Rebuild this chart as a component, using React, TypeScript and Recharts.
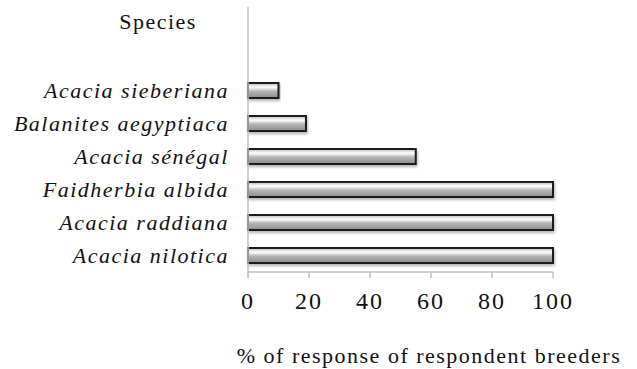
import React from "react";
import { BarChart, Bar, XAxis, YAxis } from "recharts";

const species = [
  "Acacia sieberiana",
  "Balanites aegyptiaca",
  "Acacia sénégal",
  "Faidherbia albida",
  "Acacia raddiana",
  "Acacia nilotica",
];
const responses = [10, 19, 55, 100, 100, 100];
const xTicks = [0, 20, 40, 60, 80, 100];

const data = species.map((name, i) => ({ name, value: responses[i] }));

const FONT = "Liberation Serif";
const INK = "#111";

export default function App() {
  return (
    <div style={{ position: "absolute", left: 0, top: 0, background: "#fff" }}>
      <BarChart
        width={637}
        height={369}
        data={data}
        layout="vertical"
        margin={{ top: 7, right: 84, left: 0, bottom: 0 }}
      >
        <defs>
          <linearGradient id="barFill" x1="0" y1="0" x2="0" y2="1">
            <stop offset="0%" stopColor="#b8b8b8" />
            <stop offset="28%" stopColor="#ffffff" />
            <stop offset="55%" stopColor="#b4b4b4" />
            <stop offset="100%" stopColor="#8c8c8c" />
          </linearGradient>
          <filter id="barShadow" x="-5%" y="-20%" width="110%" height="160%">
            <feDropShadow dx="1" dy="2" stdDeviation="1.5" floodColor="#000" floodOpacity="0.3" />
          </filter>
        </defs>
        <XAxis
          type="number"
          domain={[0, 100]}
          ticks={xTicks}
          height={97}
          axisLine={{ stroke: "#bfbfbf", strokeWidth: 1.5 }}
          tickLine={{ stroke: "#bfbfbf", strokeWidth: 1.5 }}
          tickSize={6}
          tickMargin={14}
          tick={{ fontFamily: FONT, fontSize: 24, fill: INK, letterSpacing: 2 }}
          label={{
            content: () => (
              <text
                x={429}
                y={363}
                textAnchor="middle"
                fontFamily={FONT}
                fontSize={22}
                letterSpacing={1.5}
                fill={INK}
              >
                % of response of respondent breeders
              </text>
            ),
          }}
        />
        <YAxis
          type="category"
          dataKey="name"
          width={248}
          padding={{ top: 67, bottom: 0 }}
          axisLine={{ stroke: "#bfbfbf", strokeWidth: 1.5 }}
          tickLine={false}
          tickSize={0}
          tickMargin={19}
          interval={0}
          tick={{
            fontFamily: FONT,
            fontSize: 22,
            fontStyle: "italic",
            fill: INK,
            letterSpacing: 1.5,
          }}
          label={{
            content: () => (
              <text
                x={158}
                y={29}
                textAnchor="middle"
                fontFamily={FONT}
                fontSize={22}
                letterSpacing={1.5}
                fill={INK}
              >
                Species
              </text>
            ),
          }}
        />
        <Bar
          dataKey="value"
          barSize={15}
          fill="url(#barFill)"
          stroke="#1a1a1a"
          strokeWidth={2}
          style={{ filter: "url(#barShadow)" }}
          isAnimationActive={false}
        />
      </BarChart>
    </div>
  );
}
